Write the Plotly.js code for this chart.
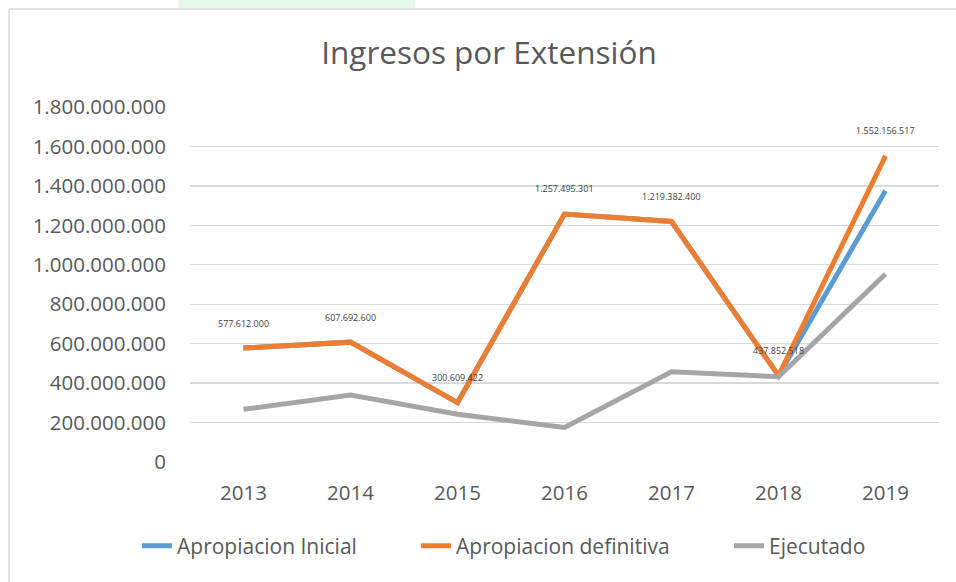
<!DOCTYPE html>
<html>
<head>
<meta charset="utf-8">
<script src="https://cdn.plot.ly/plotly-3.0.1.min.js"></script>
<style>html,body{margin:0;padding:0;background:#fff;}#chart{width:956px;height:582px;}</style>
</head>
<body>
<div id="chart"></div>
<script>
const years = ['2013','2014','2015','2016','2017','2018','2019'];
const apropiacionInicial = [577612000, 607692600, 300609422, 1257495301, 1219382400, 437852518, 1375000000];
const apropiacionDefinitiva = [577612000, 607692600, 300609422, 1257495301, 1219382400, 437852518, 1552156517];
const ejecutado = [267000000, 340000000, 242000000, 175000000, 458000000, 432000000, 953000000];
const yTicks = [0, 200000000, 400000000, 600000000, 800000000, 1000000000, 1200000000, 1400000000, 1600000000, 1800000000];

function fmt(v){ return String(Math.round(v)).replace(/\B(?=(\d{3})+(?!\d))/g, '.'); }

const FONT = 'Open Sans, Liberation Sans, sans-serif';
const plotL = 190, plotR = 939, plotT = 107, plotB = 462;
const W = plotR - plotL, H = plotB - plotT;
const px = x => (x - plotL) / W;
const py = y => (plotB - y) / H;

const traces = [
  {x: years, y: apropiacionInicial, name: 'Apropiacion Inicial', type: 'scatter', mode: 'lines',
   line: {color: '#5B9BD5', width: 5}, legend: 'legend', hoverinfo: 'skip'},
  {x: years, y: apropiacionDefinitiva, name: 'Apropiacion definitiva', type: 'scatter', mode: 'lines',
   line: {color: '#ED7D31', width: 5}, legend: 'legend2', hoverinfo: 'skip'},
  {x: years, y: ejecutado, name: 'Ejecutado', type: 'scatter', mode: 'lines',
   line: {color: '#A5A5A5', width: 5}, legend: 'legend3', hoverinfo: 'skip'}
];

// category axis: annotation x given as the category's serial index
const labels = years.map((yr, i) => ({
  x: i, y: apropiacionDefinitiva[i], xref: 'x', yref: 'y', text: fmt(apropiacionDefinitiva[i]),
  showarrow: false, yshift: 25, xanchor: 'center', yanchor: 'middle',
  font: {family: FONT, size: 9, color: '#404040'}
}));

const legendBase = {orientation: 'h', yanchor: 'middle', xanchor: 'left', y: py(546),
  font: {family: FONT, size: 21, color: '#595959'}, bgcolor: 'rgba(0,0,0,0)'};

const layout = {
  width: 956, height: 582,
  margin: {l: plotL, r: 956 - plotR, t: plotT, b: 582 - plotB, pad: 0},
  paper_bgcolor: '#ffffff', plot_bgcolor: '#ffffff',
  separators: ',.',
  title: {text: 'Ingresos por Extensión', font: {family: FONT, size: 31.5, color: '#595959'},
    xref: 'container', yref: 'container', x: 489/956, xanchor: 'center', y: 1 - 53/582, yanchor: 'middle'},
  xaxis: {type: 'category', categoryarray: years, range: [-0.5, 6.5], showgrid: false, zeroline: false,
    showline: false, ticks: '', ticklabelstandoff: 16, tickfont: {family: FONT, size: 20.5, color: '#595959'}, fixedrange: true},
  yaxis: {range: [0, 1800000000], tickvals: yTicks, ticktext: yTicks.map(fmt), showgrid: true,
    gridcolor: '#d9d9d9', gridwidth: 1.3, zeroline: false, showline: false, ticks: '',
    ticklabelstandoff: 23, tickfont: {family: FONT, size: 20.5, color: '#595959'}, fixedrange: true},
  showlegend: true,
  legend: Object.assign({}, legendBase, {x: px(137)}),
  legend2: Object.assign({}, legendBase, {x: px(416)}),
  legend3: Object.assign({}, legendBase, {x: px(729)}),
  annotations: labels,
  shapes: [
    {type: 'rect', xref: 'paper', yref: 'paper', x0: px(178), x1: px(415), y0: py(8), y1: py(0),
     fillcolor: '#e4f7eb', line: {width: 0}, layer: 'below'},
    {type: 'line', xref: 'paper', yref: 'paper', x0: px(9), x1: px(9), y0: py(9), y1: py(590),
     line: {color: '#d9d9d9', width: 1.5}, layer: 'below'},
    {type: 'line', xref: 'paper', yref: 'paper', x0: px(9), x1: px(960), y0: py(9), y1: py(9),
     line: {color: '#d9d9d9', width: 1.5}, layer: 'below'}
  ]
};

Plotly.newPlot('chart', traces, layout, {displayModeBar: false, staticPlot: true});
</script>
</body>
</html>
